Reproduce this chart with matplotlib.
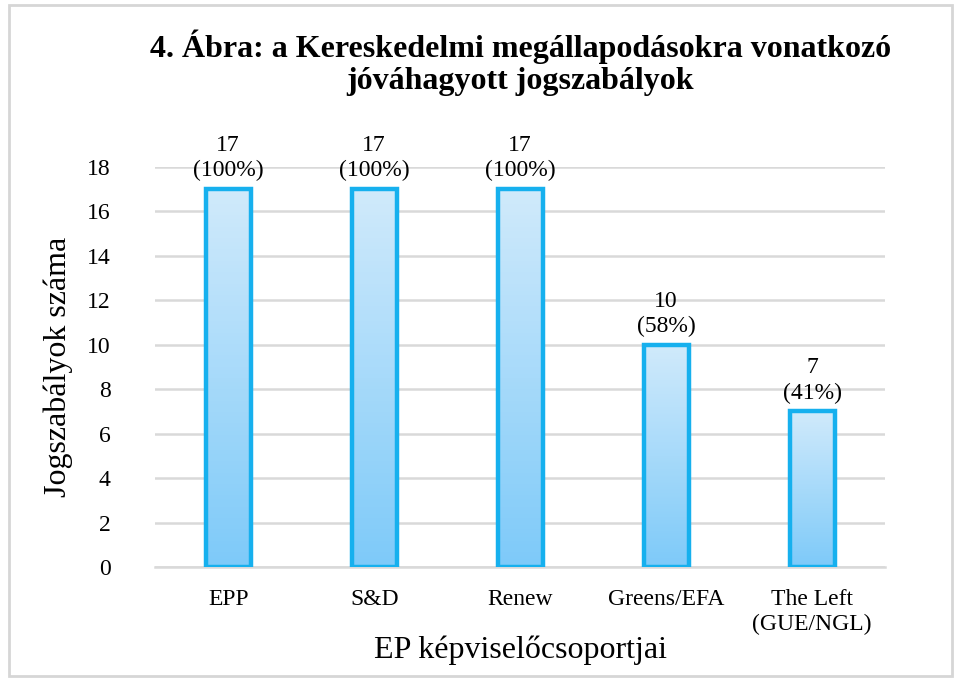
import numpy as np
import matplotlib.pyplot as plt
from matplotlib.patches import Rectangle
from matplotlib.colors import LinearSegmentedColormap

groups = ['EPP', 'S&D', 'Renew', 'Greens/EFA', 'The Left\n(GUE/NGL)']
counts = [17, 17, 17, 10, 7]
shares = ['100%', '100%', '100%', '58%', '41%']

plt.rcParams['font.family'] = ['Liberation Serif', 'DejaVu Serif']

fig = plt.figure(figsize=(9.58, 6.79), dpi=100)
ax = fig.add_axes([0.162, 0.165, 0.762, 0.589])

# frame round the whole picture
fig.patches.append(Rectangle((0.009, 0.005), 0.985, 0.988, transform=fig.transFigure,
                             fill=False, edgecolor='#d6d6d6', linewidth=2))

grad = LinearSegmentedColormap.from_list('g', ['#7ecaf9', '#d0eafb'])
w = 0.31
x = np.arange(len(groups))
for xi, c in zip(x, counts):
    ax.imshow(np.linspace(0, 1, 100).reshape(-1, 1), cmap=grad, origin='lower',
              extent=(xi - w / 2, xi + w / 2, 0, c), aspect='auto', zorder=2)
bars = ax.bar(x, counts, width=w, fill=False, edgecolor='#16b0ee', linewidth=3.2, zorder=3)

for b, c, s in zip(bars, counts, shares):
    ax.text(b.get_x() + b.get_width() / 2, c + 0.35, f'{c}\n({s})', ha='center', va='bottom',
            fontsize=17, linespacing=1.25)

ax.set_xlim(-0.5, len(groups) - 0.5)
ax.set_ylim(0, 18)
ax.set_yticks(range(0, 19, 2))
ax.set_xticks(x)
ax.set_xticklabels(groups, fontsize=17, linespacing=1.25)
ax.tick_params(axis='y', labelsize=17, length=0, pad=32)
ax.tick_params(axis='x', length=0, pad=16)
ax.yaxis.grid(True, color='#d9d9d9', linewidth=1.8, zorder=0)
ax.set_axisbelow(True)
for sp in ['top', 'right', 'left']:
    ax.spines[sp].set_visible(False)
ax.spines['bottom'].set_color('#d9d9d9')
ax.spines['bottom'].set_linewidth(1.8)

ax.set_ylabel('Jogszabályok száma', fontsize=23, labelpad=10)
ax.set_xlabel('EP képviselőcsoportjai', fontsize=23, labelpad=0)
fig.text(0.543, 0.908, '4. Ábra: a Kereskedelmi megállapodásokra vonatkozó\njóváhagyott jogszabályok',
         ha='center', va='center', fontsize=23, fontweight='bold', linespacing=1.15)

fig.savefig('out.png', dpi=100)
